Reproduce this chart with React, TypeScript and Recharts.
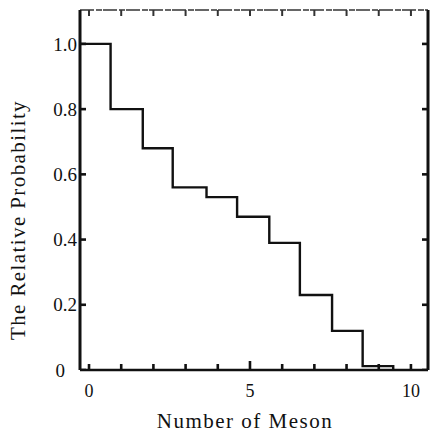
import React from 'react';
import { ComposedChart, Line, Scatter, XAxis, YAxis, Label } from 'recharts';

// Step edges (number of mesons) and relative probability of each step
const edges = [-0.28, 0.67, 1.67, 2.6, 3.65, 4.6, 5.6, 6.55, 7.55, 8.5, 9.45];
const probs = [1.0, 0.8, 0.68, 0.56, 0.53, 0.47, 0.39, 0.23, 0.12, 0.012, 0];

const xTicks = [0, 1, 2, 3, 4, 5, 6, 7, 8, 9, 10];
const xMajorTicks = [5];
const xTickLabels: Record<number, string> = { 0: '0', 5: '5', 10: '10' };
const yTicks = [0, 0.2, 0.4, 0.6, 0.8, 1.0];
const yTickLabels = ['0', '0.2', '0.4', '0.6', '0.8', '1.0'];

const xTitle = 'Number of Meson';
const yTitle = 'The Relative Probability';

const X_DOMAIN: [number, number] = [-0.28, 10.53];
const Y_DOMAIN: [number, number] = [0, 1.104];

const stepData = edges.map((x, i) => ({ x, p: probs[i] }));
const bottomTickData = xTicks.map((v) => ({ x: v, p: Y_DOMAIN[0], major: xMajorTicks.includes(v) }));
const topTickData = xTicks.map((v) => ({ x: v, p: Y_DOMAIN[1] }));
const leftTickData = yTicks.map((v) => ({ x: X_DOMAIN[0], p: v }));
const rightTickData = yTicks.map((v) => ({ x: X_DOMAIN[1], p: v }));

const FONT = '"Liberation Serif", "DejaVu Serif", serif';
const INK = '#111';

const LeftLabel = (props: any) => {
  const { x, y, payload } = props;
  const idx = yTicks.indexOf(payload.value);
  const label = idx >= 0 ? yTickLabels[idx] : '';
  const shift = payload.value === 0 ? -12 : 0;
  return (
    <text x={x + shift} y={y} dy="0.35em" textAnchor="end" fontSize={19} fill={INK} style={{ fontFamily: FONT }}>
      {label}
    </text>
  );
};

const BottomLabel = (props: any) => {
  const { x, y, payload } = props;
  const label = xTickLabels[payload.value] ?? '';
  return (
    <text x={x} y={y} dy="0.71em" textAnchor="middle" fontSize={18} fill={INK} style={{ fontFamily: FONT }}>
      {label}
    </text>
  );
};

const upTick = (p: any) => {
  const len = p.payload && p.payload.major ? 9 : 6;
  return <path d={`M${p.cx},${p.cy}v${-len}`} stroke={INK} strokeWidth={2.6} fill="none" />;
};
const downTick = (p: any) => <path d={`M${p.cx},${p.cy}v6`} stroke="#333" strokeWidth={2} fill="none" />;
const rightTick = (p: any) => <path d={`M${p.cx},${p.cy}h6`} stroke={INK} strokeWidth={2.6} fill="none" />;
const leftTick = (p: any) => <path d={`M${p.cx},${p.cy}h-6`} stroke={INK} strokeWidth={2.6} fill="none" />;

export default function App() {
  return (
    <div style={{ position: 'absolute', left: 0, top: 0, width: 431, height: 433, background: '#fff' }}>
      <ComposedChart width={431} height={433} margin={{ top: 0, right: 0, left: 0, bottom: 0 }}>
        <XAxis
          xAxisId="top"
          orientation="top"
          type="number"
          dataKey="x"
          domain={X_DOMAIN}
          allowDataOverflow
          ticks={xTicks}
          height={10}
          tickSize={0}
          tick={false}
          tickLine={false}
          axisLine={{ stroke: '#666', strokeWidth: 1.8, strokeDasharray: '14 2 6 1' }}
        />
        <XAxis
          xAxisId="bottom"
          type="number"
          dataKey="x"
          domain={X_DOMAIN}
          allowDataOverflow
          ticks={xTicks}
          height={63}
          tickSize={0}
          tickMargin={14}
          tickLine={false}
          tick={<BottomLabel />}
          axisLine={{ stroke: INK, strokeWidth: 2.5 }}
        >
          <Label
            content={(p: any) => {
              const vb = p.viewBox;
              return (
                <text
                  x={vb.x + vb.width / 2 - 9}
                  y={428}
                  textAnchor="middle"
                  fontSize={21}
                  letterSpacing={1.5}
                  fill={INK}
                  style={{ fontFamily: FONT }}
                >
                  {xTitle}
                </text>
              );
            }}
          />
        </XAxis>
        <YAxis
          yAxisId="left"
          type="number"
          dataKey="p"
          domain={Y_DOMAIN}
          allowDataOverflow
          ticks={yTicks}
          width={80}
          tickSize={0}
          tickMargin={3}
          tickLine={false}
          tick={<LeftLabel />}
          axisLine={{ stroke: INK, strokeWidth: 3 }}
        >
          <Label
            content={(p: any) => {
              const vb = p.viewBox;
              const cx = 18;
              const cy = vb.y + vb.height / 2 + 30;
              return (
                <text
                  x={cx}
                  y={cy}
                  transform={`rotate(-90, ${cx}, ${cy})`}
                  textAnchor="middle"
                  dominantBaseline="central"
                  fontSize={21}
                  letterSpacing={1.4}
                  fill={INK}
                  style={{ fontFamily: FONT }}
                >
                  {yTitle}
                </text>
              );
            }}
          />
        </YAxis>
        <YAxis
          yAxisId="right"
          orientation="right"
          type="number"
          domain={Y_DOMAIN}
          allowDataOverflow
          ticks={yTicks}
          width={3}
          tickSize={0}
          tick={false}
          tickLine={false}
          axisLine={{ stroke: INK, strokeWidth: 3 }}
        />
        <Scatter data={bottomTickData} xAxisId="bottom" yAxisId="left" dataKey="p" shape={upTick} isAnimationActive={false} />
        <Scatter data={topTickData} xAxisId="bottom" yAxisId="left" dataKey="p" shape={downTick} isAnimationActive={false} />
        <Scatter data={leftTickData} xAxisId="bottom" yAxisId="left" dataKey="p" shape={rightTick} isAnimationActive={false} />
        <Scatter data={rightTickData} xAxisId="bottom" yAxisId="left" dataKey="p" shape={leftTick} isAnimationActive={false} />
        <Line
          data={stepData}
          xAxisId="bottom"
          yAxisId="left"
          type="stepAfter"
          dataKey="p"
          stroke={INK}
          strokeWidth={2.4}
          dot={false}
          isAnimationActive={false}
        />
      </ComposedChart>
    </div>
  );
}
